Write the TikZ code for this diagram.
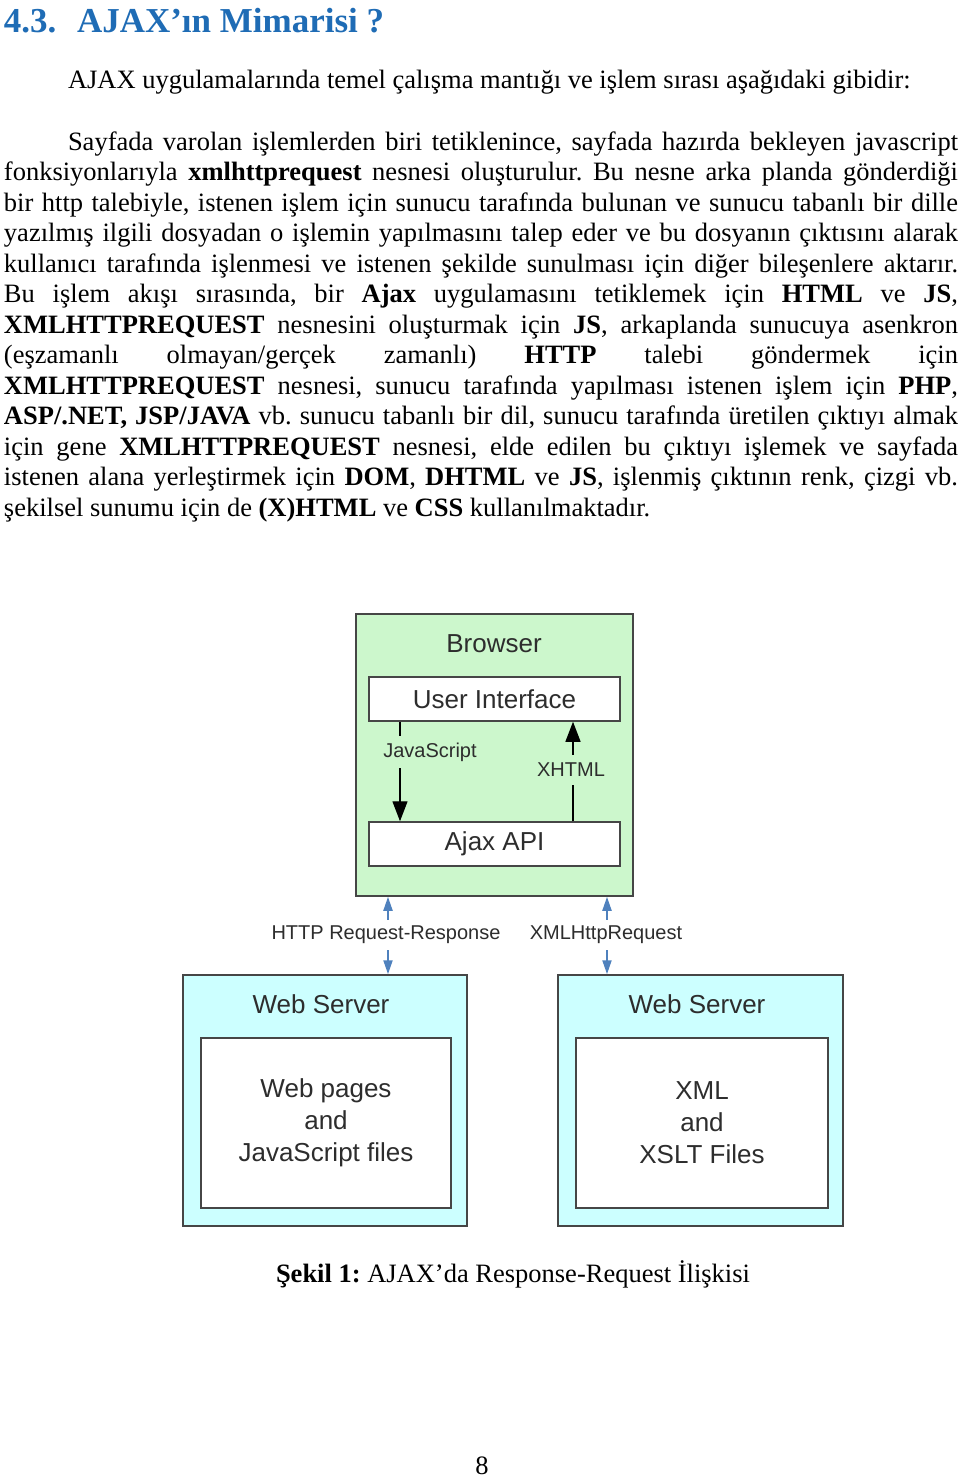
\documentclass[tikz,border=0pt]{standalone}
\usepackage{fontspec}
\setmainfont{Liberation Serif}
\newfontfamily\arialf{Liberation Sans}
\usetikzlibrary{arrows.meta}
\frenchspacing
\definecolor{titleblue}{RGB}{31,108,181}
\definecolor{browsergreen}{RGB}{204,247,204}
\definecolor{servercyan}{RGB}{204,255,255}
\definecolor{arrowblue}{RGB}{79,129,189}
\definecolor{boxline}{RGB}{70,70,70}
\definecolor{labelgray}{RGB}{45,45,45}
\newcommand\bodyfont{\fontsize{26.5}{30.5}\selectfont\frenchspacing}
\newcommand\jl[2][954pt]{\makebox[#1][s]{#2}}
\begin{document}
\begin{tikzpicture}[x=1pt,y=-1pt,
  txt/.style={anchor=base west, inner sep=0pt, outer sep=0pt, font=\bodyfont},
  ttl/.style={anchor=base west, inner sep=0pt, outer sep=0pt, text=titleblue, font=\fontsize{35}{40}\selectfont\bfseries},
  box/.style={draw=boxline, line width=1.5pt, inner sep=0pt},
  diag/.style={font=\arialf\fontsize{26}{32}\selectfont, text=labelgray, align=center},
  small/.style={font=\arialf\fontsize{20}{22}\selectfont, text=labelgray},
  blackarrow/.style={draw=black, line width=1.3pt, -{Triangle[length=20pt,width=15pt]}},
  bluearrow/.style={draw=arrowblue, line width=2pt, {Triangle[length=14pt,width=9pt]}-{Triangle[length=14pt,width=9pt]}}
]
\useasboundingbox (0,0) rectangle (960,1478);

% heading
\node[ttl] (h1) at (4,32) {4.3.};
\node[ttl] (h2) at (77,32) {AJAX’ın Mimarisi ?};

% intro line
\node[txt] (l0) at (68,88) {AJAX uygulamalarında temel çalışma mantığı ve işlem sırası aşağıdaki gibidir:};

% paragraph
\node[txt] (l1) at (68,150) {\jl[890pt]{Sayfada varolan işlemlerden biri tetiklenince, sayfada hazırda bekleyen javascript}};
\node[txt] (l2) at (4,180.5) {\jl{fonksiyonlarıyla \textbf{xmlhttprequest} nesnesi oluşturulur. Bu nesne arka planda gönderdiği}};
\node[txt] (l3) at (4,211) {\jl{bir http talebiyle, istenen işlem için sunucu tarafında bulunan ve sunucu tabanlı bir dille}};
\node[txt] (l4) at (4,241.5) {\jl{yazılmış ilgili dosyadan o işlemin yapılmasını talep eder ve bu dosyanın çıktısını alarak}};
\node[txt] (l5) at (4,272) {\jl{kullanıcı tarafında işlenmesi ve istenen şekilde sunulması için diğer bileşenlere aktarır.}};
\node[txt] (l6) at (4,302.5) {\jl{Bu işlem akışı sırasında, bir \textbf{Ajax} uygulamasını tetiklemek için \textbf{HTML} ve \textbf{JS},}};
\node[txt] (l7) at (4,333) {\jl{\textbf{XMLHTTPREQUEST} nesnesini oluşturmak için \textbf{JS}, arkaplanda sunucuya asenkron}};
\node[txt] (l8) at (4,363.5) {\jl{(eşzamanlı olmayan/gerçek zamanlı) \textbf{HTTP} talebi göndermek için}};
\node[txt] (l9) at (4,394) {\jl{\textbf{XMLHTTPREQUEST} nesnesi, sunucu tarafında yapılması istenen işlem için \textbf{PHP},}};
\node[txt] (l10) at (4,424.5) {\jl{\textbf{ASP/.NET, JSP/JAVA} vb. sunucu tabanlı bir dil, sunucu tarafında üretilen çıktıyı almak}};
\node[txt] (l11) at (4,455) {\jl{için gene \textbf{XMLHTTPREQUEST} nesnesi, elde edilen bu çıktıyı işlemek ve sayfada}};
\node[txt] (l12) at (4,485.5) {\jl{istenen alana yerleştirmek için \textbf{DOM}, \textbf{DHTML} ve \textbf{JS}, işlenmiş çıktının renk, çizgi vb.}};
\node[txt] (l13) at (4,516) {şekilsel sunumu için de \textbf{(X)HTML} ve \textbf{CSS} kullanılmaktadır.};

% ---- diagram ----
\node[box, fill=browsergreen, minimum width=277pt, minimum height=282pt] (browser) at (494.5,755) {};
\node[diag] (btitle) at (494,644) {Browser};
\node[box, diag, fill=white, minimum width=251pt, minimum height=44pt] (ui) at (494.5,699) {User Interface};
\node[box, diag, fill=white, minimum width=251pt, minimum height=44pt] (api) at (494.5,844) {Ajax API};

\coordinate (jsx) at (400,0);
\coordinate (xhx) at (573,0);
\draw[blackarrow] (ui.south -| jsx) -- (api.north -| jsx);
\draw[blackarrow] (api.north -| xhx) -- (ui.south -| xhx);
\node[small, fill=browsergreen, inner xsep=1pt, inner ysep=7pt] (jslbl) at (430,752) {JavaScript};
\node[small, fill=browsergreen, inner xsep=1pt, inner ysep=8pt] (xhlbl) at (571,770) {XHTML};

% servers
\node[box, fill=servercyan, minimum width=284pt, minimum height=251pt] (ws1) at (325,1100.5) {};
\node[box, fill=servercyan, minimum width=285pt, minimum height=251pt] (ws2) at (700.5,1100.5) {};
\node[diag] (ws1t) at (321,1004) {Web Server};
\node[diag] (ws2t) at (697,1004) {Web Server};
\node[box, diag, fill=white, minimum width=250pt, minimum height=170pt] (f1) at (326,1123) {Web pages\\and\\JavaScript files};
\node[box, diag, fill=white, minimum width=252pt, minimum height=170pt] (f2) at (702,1123) {XML\\and\\XSLT Files};

% blue connectors
\coordinate (b1) at (388,0);
\coordinate (b2) at (607,0);
\draw[bluearrow] (browser.south -| b1) -- (ws1.north -| b1);
\draw[bluearrow] (browser.south -| b2) -- (ws2.north -| b2);
\node[small, fill=white, inner xsep=2pt, inner ysep=6pt] (httplbl) at (386,935) {HTTP Request-Response};
\node[small, fill=white, inner xsep=2pt, inner ysep=6pt] (xmllbl) at (606,935) {XMLHttpRequest};

% caption and page number
\node[txt] (cap) at (276,1282) {\textbf{Şekil 1:} AJAX’da Response-Request İlişkisi};
\node[txt, anchor=base] (pg) at (482,1474) {8};
\end{tikzpicture}
\end{document}
